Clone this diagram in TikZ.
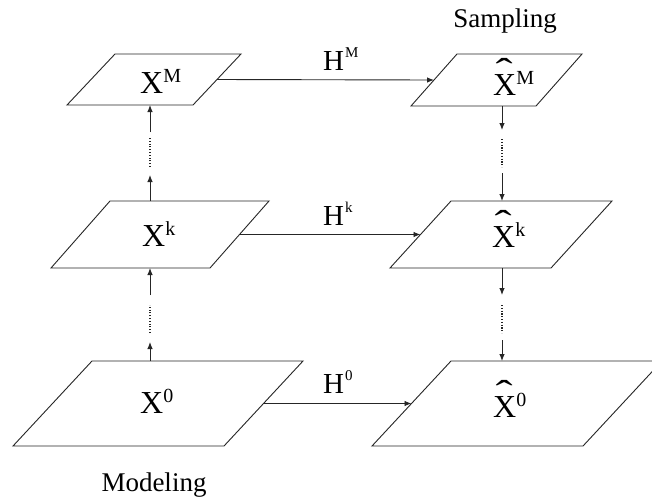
\documentclass[tikz,border=0pt]{standalone}
\usepackage{fontspec}
\setmainfont{Liberation Serif}
\usetikzlibrary{arrows.meta,calc}
\newcommand{\pbox}[6]{%
  \coordinate (#1-tl) at (#2,#3);
  \coordinate (#1-tr) at (#2+#4,#3);
  \coordinate (#1-br) at (#2+#4-#6,#3+#5);
  \coordinate (#1-bl) at (#2-#6,#3+#5);
  \draw[plane] (#1-tl) -- (#1-tr) -- (#1-br) -- (#1-bl) -- cycle;
  \coordinate (#1-l) at ($(#1-tl)!0.5!(#1-bl)$);
  \coordinate (#1-r) at ($(#1-tr)!0.5!(#1-br)$);
}
\newcommand{\bigX}{{\fontsize{32}{32}\selectfont X}}
\newcommand{\hatX}{\leavevmode\rlap{\hspace{2.5pt}\raisebox{11.5pt}{\scalebox{1.35}[0.95]{\fontsize{38}{38}\selectfont\char"02C6}}}\bigX}
\newcommand{\supA}[1]{\raisebox{10.5pt}{\fontsize{20}{20}\selectfont #1}}
\newcommand{\bigH}{{\fontsize{29}{29}\selectfont H}}
\newcommand{\supB}[1]{\hspace{1pt}\raisebox{13pt}{\fontsize{15}{15}\selectfont #1}}
\begin{document}
\begin{tikzpicture}[x=1pt,y=-1pt,
  plane/.style={draw=black!85,line width=0.9pt,fill=white},
  arr/.style={draw=black!85,line width=0.9pt,-{Latex[length=7pt,width=5.5pt]}},
  dots/.style={draw=black!85,line width=1.3pt,dash pattern=on 1.1pt off 1.7pt},
  txt/.style={inner sep=0pt,anchor=base west},
  lbl/.style={inner sep=0pt,anchor=base,font=\fontsize{27}{27}\selectfont}]
\useasboundingbox (0,0) rectangle (652,499);
\clip (0,0) rectangle (652,499);
\fill[white] (0,0) rectangle (652,499);
% planes
\pbox{XM}{115}{54}{126}{51}{48}
\pbox{XhM}{457}{54}{125}{52}{46}
\pbox{Xk}{110}{201}{159}{67}{59}
\pbox{Xhk}{451}{201}{161}{67}{61}
\pbox{X0}{92}{361}{211}{85}{79}
\pbox{Xh0}{451}{361}{211}{85}{79}
% texts in planes
\node[txt] (tXM) at (140,93) {\bigX\supA{M}};
\node[txt] (tXhM) at (493,95) {\hatX\supA{M}};
\node[txt] (tXk) at (142,246) {\bigX\supA{k}};
\node[txt] (tXhk) at (492,247) {\hatX\supA{k}};
\node[txt] (tX0) at (140,413) {\bigX\supA{0}};
\node[txt] (tXh0) at (493,417) {\hatX\supA{0}};
% H labels
\node[txt] (hM) at (323,70) {\bigH\supB{M}};
\node[txt] (hk) at (323,225) {\bigH\supB{k}};
\node[txt] (h0) at (323,393) {\bigH\supB{0}};
% titles
\node[lbl] (samp) at (505,27) {Sampling};
\node[lbl] (model) at (154,491) {Modeling};
% horizontal arrows
\draw[arr] (XM-r) -- (XhM-l);
\draw[arr] (Xk-r) -- (Xhk-l);
\draw[arr] (X0-r) -- (Xh0-l);
% column guide coordinates
\coordinate (lcol) at (150,0);
\coordinate (rcol) at (502,0);
\coordinate (la1) at (150,175);
\coordinate (la2) at (150,167);
\coordinate (la3) at (150,138);
\coordinate (la4) at (150,132);
\coordinate (lb1) at (150,342);
\coordinate (lb2) at (150,333);
\coordinate (lb3) at (150,305);
\coordinate (lb4) at (150,295);
\coordinate (ra1) at (502,130);
\coordinate (ra2) at (502,139);
\coordinate (ra3) at (502,167);
\coordinate (ra4) at (502,173);
\coordinate (rb1) at (502,295);
\coordinate (rb2) at (502,305);
\coordinate (rb3) at (502,333);
\coordinate (rb4) at (502,340);
% left column (upward)
\draw[arr] (Xk-tl -| lcol) -- (la1);
\draw[dots] (la2) -- (la3);
\draw[arr] (la4) -- (XM-bl -| lcol);
\draw[arr] (X0-tl -| lcol) -- (lb1);
\draw[dots] (lb2) -- (lb3);
\draw[arr] (lb4) -- (Xk-bl -| lcol);
% right column (downward)
\draw[arr] (XhM-bl -| rcol) -- (ra1);
\draw[dots] (ra2) -- (ra3);
\draw[arr] (ra4) -- (Xhk-tl -| rcol);
\draw[arr] (Xhk-bl -| rcol) -- (rb1);
\draw[dots] (rb2) -- (rb3);
\draw[arr] (rb4) -- (Xh0-tl -| rcol);
\end{tikzpicture}
\end{document}
